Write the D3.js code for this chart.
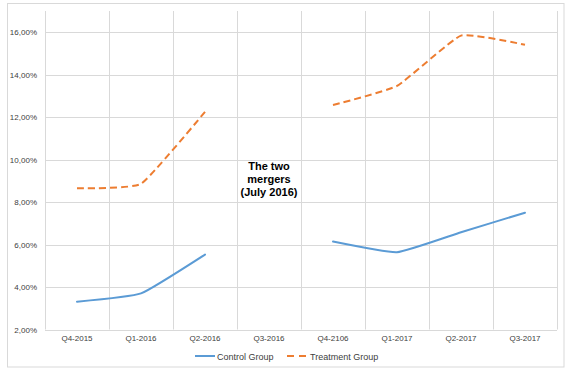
<!DOCTYPE html>
<html><head><meta charset="utf-8">
<script src="https://cdn.jsdelivr.net/npm/d3@7"></script>
<style>body{margin:0;background:#fff;}svg{display:block;font-family:"Liberation Sans",Arial,sans-serif;}</style>
</head><body>
<svg id="c" width="570" height="372"></svg>
<script>
const categories = ["Q4-2015","Q1-2016","Q2-2016","Q3-2016","Q4-2106","Q1-2017","Q2-2017","Q3-2017"];
const controlGroup = [3.31, 3.70, 5.53, null, 6.14, 5.64, 6.58, 7.50];
const treatmentGroup = [8.65, 8.86, 12.25, null, 12.57, 13.47, 15.84, 15.41];
const yTicks = [2,4,6,8,10,12,14,16];
const annotation = ["The two","mergers","(July 2016)"];

const svg = d3.select("#c");
const L = 45, R = 557, T = 11, B = 329.5;
svg.append("rect").attr("x",7.5).attr("y",3.5).attr("width",556.5).attr("height",363.5)
  .attr("fill","#fff").attr("stroke","#d9d9d9").attr("stroke-width",1);

const x = d3.scaleBand().domain(categories).range([L,R]);
const y = d3.scaleLinear().domain([2,17]).range([B,T]);

svg.append("g").selectAll("line").data(yTicks).join("line")
  .attr("x1",L).attr("x2",R).attr("y1",d=>Math.round(y(d))+0.5).attr("y2",d=>Math.round(y(d))+0.5)
  .attr("stroke","#d9d9d9").attr("stroke-width",1);
const bounds = categories.map(c=>x(c)).concat([R]);
svg.append("g").selectAll("line").data(bounds).join("line")
  .attr("x1",d=>Math.round(d)+0.5).attr("x2",d=>Math.round(d)+0.5).attr("y1",T).attr("y2",B)
  .attr("stroke","#d9d9d9").attr("stroke-width",1);

const yAxis = d3.axisLeft(y).tickValues(yTicks).tickSize(0).tickPadding(8)
  .tickFormat(d=>d.toFixed(2).replace(".",",")+"%");
const gy = svg.append("g").attr("transform",`translate(${L},0)`).call(yAxis);
gy.select(".domain").remove();
gy.selectAll("text").attr("fill","#404040").style("font-size","8px").style("font-family","Liberation Sans, Arial, sans-serif");

const xAxis = d3.axisBottom(x).tickSize(0).tickPadding(6);
const gx = svg.append("g").attr("transform",`translate(0,${B})`).call(xAxis);
gx.select(".domain").remove();
gx.selectAll("text").attr("fill","#404040").style("font-size","8px").style("font-family","Liberation Sans, Arial, sans-serif");

const cx = c => x(c) + x.bandwidth()/2;
const line = d3.line().defined(d=>d.v!=null).x(d=>cx(d.c)).y(d=>y(d.v)).curve(d3.curveCardinal.tension(0.6));
const ctl = categories.map((c,i)=>({c, v:controlGroup[i]}));
const trt = categories.map((c,i)=>({c, v:treatmentGroup[i]}));

svg.append("path").datum(ctl).attr("d",line).attr("fill","none")
  .attr("stroke","#5B9BD5").attr("stroke-width",2).attr("stroke-linecap","round");
svg.append("path").datum(trt).attr("d",line).attr("fill","none")
  .attr("stroke","#ED7D31").attr("stroke-width",2).attr("stroke-dasharray","7,4");

const at = svg.append("text").attr("x",269).attr("y",170).attr("text-anchor","middle")
  .style("font-size","11px").style("font-weight","bold").attr("fill","#000");
annotation.forEach((s,i)=>at.append("tspan").attr("x",269).attr("dy",i?12.8:0).text(s));

const lg = svg.append("g");
lg.append("line").attr("x1",195).attr("x2",215).attr("y1",356).attr("y2",356).attr("stroke","#5B9BD5").attr("stroke-width",2);
lg.append("text").attr("x",217).attr("y",359.5).text("Control Group").attr("fill","#404040").style("font-size","9px");
lg.append("line").attr("x1",287).attr("x2",306).attr("y1",356).attr("y2",356).attr("stroke","#ED7D31").attr("stroke-width",2).attr("stroke-dasharray","7,5");
lg.append("text").attr("x",310).attr("y",359.5).text("Treatment Group").attr("fill","#404040").style("font-size","9px");
</script>
</body></html>
